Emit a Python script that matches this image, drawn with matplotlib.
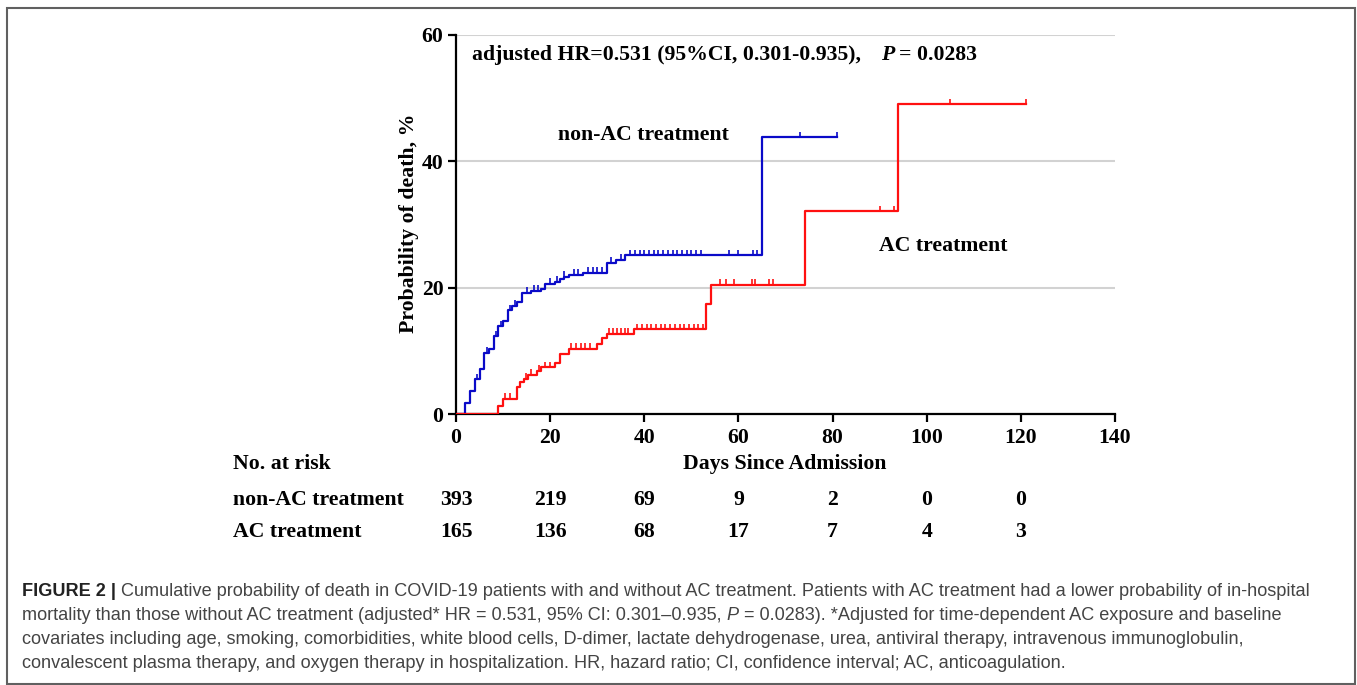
import numpy as np
import matplotlib
matplotlib.use("Agg")
import matplotlib.pyplot as plt
from matplotlib.patches import Rectangle
from matplotlib.transforms import blended_transform_factory

# step curves (day, cumulative % dead)
blue_t = [0, 2, 3, 4, 5, 6, 7, 8, 9, 10, 11, 12, 13, 14, 16, 18, 19, 21, 22, 23, 24, 27, 32, 34, 36, 65, 81]
blue_y = [0, 1.8, 3.7, 5.5, 7.1, 9.7, 10.3, 12.3, 13.9, 14.7, 16.4, 17.1, 17.8, 19.2, 19.5, 19.8, 20.6,
          20.9, 21.3, 21.7, 22.0, 22.3, 23.9, 24.4, 25.1, 43.8, 43.8]
red_t = [0, 9, 10, 13, 13.6, 14.5, 15.2, 17.2, 18.1, 21.1, 22.1, 23.9, 29.9, 31.1, 32, 37.9, 53.1, 54.1, 74.1, 94, 121]
red_y = [0, 1.3, 2.4, 4.2, 5.0, 5.6, 6.2, 6.8, 7.4, 8.1, 9.5, 10.3, 11.1, 12.0, 12.7, 13.4, 17.4, 20.4, 32.1, 49.0, 49.0]

# censoring marks
blue_cens = [4.5, 6.5, 8.5, 9.5, 11.5, 12.5, 15, 16.5, 17.5, 20, 21.5, 23, 25, 26, 28, 29, 30, 31, 33, 35,
             37, 38, 39, 40, 41, 42, 43, 44, 45, 46, 47, 48, 49, 50, 51, 52, 58, 60, 63, 64, 73, 81]
red_cens = [10.5, 11.5, 14.8, 16, 17.7, 19, 20, 24.5, 25.5, 26.5, 27.5, 28.5, 32.5, 33.3, 34.1, 35, 35.8, 36.6,
            38.5, 39.5, 40.5, 41.5, 42.5, 43.5, 44.5, 45.5, 46.5, 47.5, 48.5, 49.5, 50.5, 51.5, 52.5,
            56.1, 57.3, 59.1, 62.8, 63.6, 66.4, 67.3, 90.1, 93, 105, 121]

risk_days = [0, 20, 40, 60, 80, 100, 120]
risk_nonac = [393, 219, 69, 9, 2, 0, 0]
risk_ac = [165, 136, 68, 17, 7, 4, 3]

W, H = 1357, 685
BLUE = "#0a0ac8"
RED = "#ff1010"
SERIF = "Liberation Serif"
FS = 15.7

fig = plt.figure(figsize=(W / 100, H / 100), dpi=100)
fig.patch.set_facecolor("white")

def fx(px):
    return px / W

def fy(py):
    return 1 - py / H

ax = fig.add_axes([fx(456), fy(414), fx(1115) - fx(456), fy(35) - fy(414)])
ax.set_xlim(0, 140)
ax.set_ylim(0, 60)

ax.step(blue_t, blue_y, where="post", color=BLUE, lw=1.6, zorder=3)
ax.step(red_t, red_y, where="post", color=RED, lw=1.6, zorder=3)

def cens_y(times, vals, c):
    i = np.searchsorted(times, c, side="right") - 1
    return vals[i]

for times, vals, cens, col in [(blue_t, blue_y, blue_cens, BLUE), (red_t, red_y, red_cens, RED)]:
    cy = np.array([cens_y(times, vals, c) for c in cens])
    ax.vlines(cens, cy, cy + 0.9, color=col, lw=1.2, zorder=3)

ax.set_yticks([0, 20, 40, 60])
ax.set_xticks(range(0, 141, 20))
ax.yaxis.grid(True, color="#d2d2d2", lw=1.5)
ax.set_axisbelow(True)
for s in ["top", "right"]:
    ax.spines[s].set_visible(False)
for s in ["left", "bottom"]:
    ax.spines[s].set_linewidth(1.6)
ax.tick_params(axis="both", direction="out", length=6, width=1.6, pad=3)
ax.tick_params(axis="x", pad=4)
for lab in ax.get_xticklabels() + ax.get_yticklabels():
    lab.set_fontfamily(SERIF)
    lab.set_fontweight("bold")
    lab.set_fontsize(FS)

tf = dict(family=SERIF, weight="bold", fontsize=FS, color="black")
fig.text(fx(785), fy(464), "Days Since Admission", ha="center", va="center", **tf)
fig.text(fx(409), fy(223), "Probability of death, %", rotation=90, ha="center", va="center", **tf)
fig.text(fx(558), fy(135), "non-AC treatment", ha="left", va="center", **tf)
fig.text(fx(879), fy(246), "AC treatment", ha="left", va="center", **tf)

fig.canvas.draw()
renderer = fig.canvas.get_renderer()

# annotation with bold italic P
t1 = fig.text(fx(472), fy(55), "adjusted HR=0.531 (95%CI, 0.301-0.935),", ha="left", va="center", **tf)
x1 = t1.get_window_extent(renderer).x1
t2 = fig.text((x1 + 20) / W, fy(55), "P", ha="left", va="center", style="italic", **tf)
x2 = t2.get_window_extent(renderer).x1
fig.text((x2 + 5) / W, fy(55), "= 0.0283", ha="left", va="center", **tf)

# number at risk table
fig.text(fx(233), fy(464), "No. at risk", ha="left", va="center", **tf)
fig.text(fx(233), fy(500), "non-AC treatment", ha="left", va="center", **tf)
fig.text(fx(233), fy(532), "AC treatment", ha="left", va="center", **tf)
tr = blended_transform_factory(ax.transData, fig.transFigure)
for d, a, b in zip(risk_days, risk_nonac, risk_ac):
    ax.text(d, fy(500), str(a), transform=tr, ha="center", va="center", **tf)
    ax.text(d, fy(532), str(b), transform=tr, ha="center", va="center", **tf)

# caption
cap_col = "#444444"
SANS = "Liberation Sans"
line1_a = "FIGURE 2 |"
line1_b = ("Cumulative probability of death in COVID-19 patients with and without AC treatment. "
           "Patients with AC treatment had a lower probability of in-hospital")
probe = fig.text(0, 0, line1_a + " " + line1_b, fontsize=12, family=SANS)
wprobe = probe.get_window_extent(renderer).width
probe.remove()
cs = 12 * (1289 / wprobe)
cf = dict(family=SANS, fontsize=cs, color=cap_col, ha="left", va="center")
sp = cs * 100 / 72 * 0.278

ta = fig.text(fx(22), fy(591), line1_a, weight="bold", **dict(cf, color="#222222"))
xa = ta.get_window_extent(renderer).x1
fig.text((xa + sp) / W, fy(591), line1_b, **cf)

tb = fig.text(fx(22), fy(615), "mortality than those without AC treatment (adjusted* HR = 0.531, 95% CI: 0.301\u20130.935,", **cf)
xb = tb.get_window_extent(renderer).x1
tp = fig.text((xb + sp) / W, fy(615), "P", style="italic", **cf)
xp = tp.get_window_extent(renderer).x1
fig.text((xp + sp) / W, fy(615), "= 0.0283). *Adjusted for time-dependent AC exposure and baseline", **cf)

fig.text(fx(22), fy(640), "covariates including age, smoking, comorbidities, white blood cells, D-dimer, lactate dehydrogenase, "
         "urea, antiviral therapy, intravenous immunoglobulin,", **cf)
fig.text(fx(22), fy(664), "convalescent plasma therapy, and oxygen therapy in hospitalization. HR, hazard ratio; "
         "CI, confidence interval; AC, anticoagulation.", **cf)

# outer frame
fig.patches.append(Rectangle((fx(7), fy(684)), fx(1355) - fx(7), fy(8) - fy(684), transform=fig.transFigure,
                             fill=False, edgecolor="#606060", lw=1.5))

fig.savefig("out.png", dpi=100)
